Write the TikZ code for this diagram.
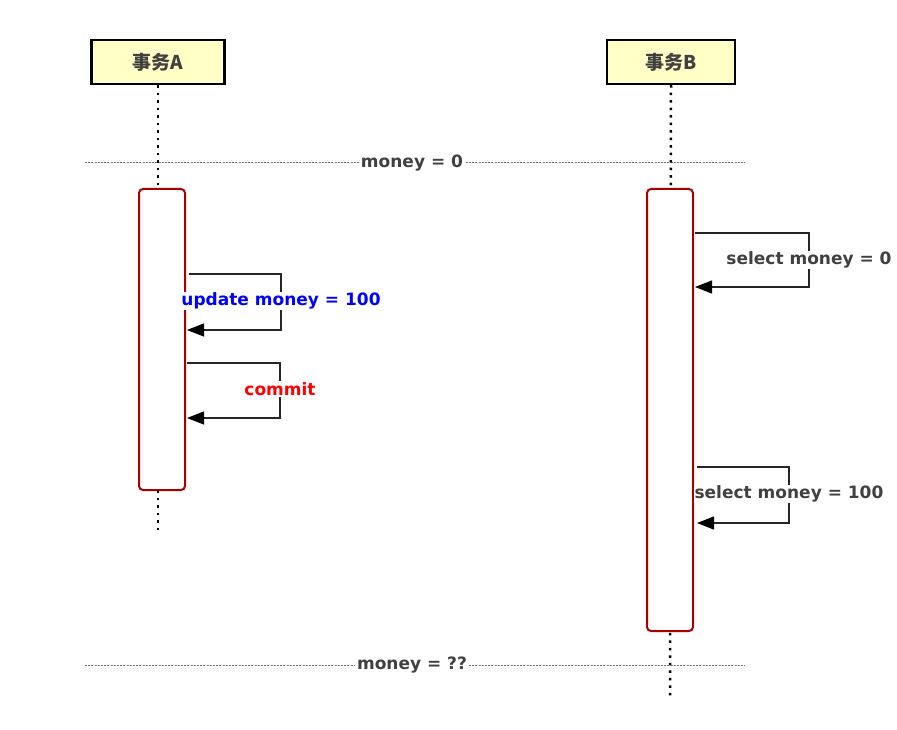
\documentclass[tikz,border=0pt]{standalone}
\usepackage{fontspec}
\setmainfont{DejaVu Sans}
\newfontfamily\cjkfont{Noto Sans CJK SC}
\usetikzlibrary{arrows.meta}

\definecolor{headfill}{HTML}{FFFFC6}
\definecolor{actred}{HTML}{A80000}
\definecolor{txtgray}{HTML}{404040}
\definecolor{sepgray}{HTML}{707070}

\tikzset{
  % Participant heads
  header/.style={
    draw=black, line width=2.5pt, fill=headfill,
    minimum height=44pt, text=txtgray,
    font=\cjkfont\bfseries\fontsize{19}{19}\selectfont
  },
  % Lifelines and activations
  lifeline/.style={black, line width=2.5pt, dash pattern=on 2.5pt off 5pt},
  activation/.style={
    draw=actred, line width=2pt, fill=white,
    rounded corners=4pt, minimum width=46pt
  },
  % Separators
  separator/.style={sepgray, line width=1pt, dash pattern=on 2pt off 1.2pt},
  seplabel/.style={
    fill=white, inner sep=2pt, text=txtgray,
    font=\bfseries\fontsize{17}{17}\selectfont
  },
  % Self messages
  selfmsg/.style={
    draw=black!85, line width=1.2pt,
    -{Triangle[length=17pt, width=13pt, color=black]}
  },
  msglabel/.style={
    fill=white, inner sep=1pt,
    font=\bfseries\fontsize{17}{17}\selectfont
  },
}

\begin{document}
\begin{tikzpicture}[x=1pt, y=-1pt]

  \useasboundingbox (0,0) rectangle (897,730);

  %% -- Separators --
  \coordinate (s1w) at (85,163);
  \coordinate (s1e) at (745,163);
  \coordinate (s2w) at (85,665);
  \coordinate (s2e) at (745,665);
  \draw[separator] (s1w) -- (s1e);
  \draw[separator] (s2w) -- (s2e);
  \node[seplabel] (s1lbl) at (412,163) {money = 0};
  \node[seplabel] (s2lbl) at (412,665) {money = ??};

  %% -- Participants --
  \node[header, minimum width=133pt] (headA) at (158,62) {事务A};
  \node[header, minimum width=128pt] (headB) at (671,62) {事务B};

  %% -- Lifelines --
  \coordinate (endA) at (158,530);
  \coordinate (endB) at (670,697);
  \draw[lifeline] (headA.south) -- (endA);
  \draw[lifeline] (headB.south) -- (endB);

  %% -- Activations --
  \node[activation, minimum height=301pt] (actA) at (162,339.5) {};
  \node[activation, minimum height=442pt] (actB) at (670,410) {};

  %% -- Self messages --
  % A
  \coordinate (a1s) at (189,274);
  \coordinate (a1k) at (281,301);
  \coordinate (a1e) at (187,330);
  \draw[selfmsg] (a1s) -| (a1k) |- (a1e);
  \node[msglabel, text=blue] (a1lbl) at (a1k) {update money = 100};

  \coordinate (a2s) at (187,363);
  \coordinate (a2k) at (280,389);
  \coordinate (a2e) at (187,418);
  \draw[selfmsg] (a2s) -| (a2k) |- (a2e);
  \node[msglabel, text=red] (a2lbl) at (a2k) {commit};

  % B
  \coordinate (b1s) at (695,233);
  \coordinate (b1k) at (809,260);
  \coordinate (b1e) at (695,287);
  \draw[selfmsg] (b1s) -| (b1k) |- (b1e);
  \node[msglabel, text=txtgray] (b1lbl) at (b1k) {select money = 0};

  \coordinate (b2s) at (697,467);
  \coordinate (b2k) at (789,494);
  \coordinate (b2e) at (697,523);
  \draw[selfmsg] (b2s) -| (b2k) |- (b2e);
  \node[msglabel, text=txtgray] (b2lbl) at (b2k) {select money = 100};

\end{tikzpicture}
\end{document}
